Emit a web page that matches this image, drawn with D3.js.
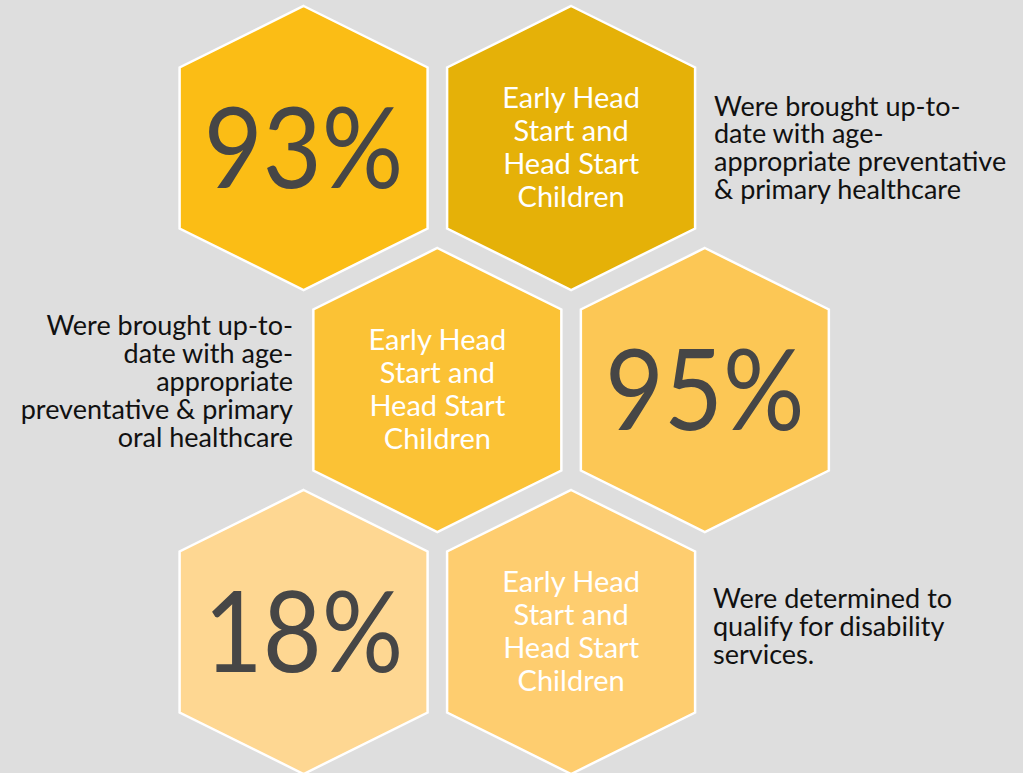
<!DOCTYPE html>
<meta charset="utf-8">
<html>
  <head>
    <style>
      body { margin: 0; background: #dedede; }
      #my_dataviz { width: 1023px; height: 773px; }
    </style>
    <script src="https://d3js.org/d3.v7.min.js"></script>
  </head>
  <body>
<div id="my_dataviz"></div>
<script>

// chart values
var percents = [93, 95, 18];
var groupLabel = ["Early Head", "Start and", "Head Start", "Children"];
var descriptions = [
  ["Were brought up-to-", "date with age-", "appropriate preventative", "& primary healthcare"],
  ["Were brought up-to-", "date with age-", "appropriate", "preventative & primary", "oral healthcare"],
  ["Were determined to", "qualify for disability", "services."]
];
var pctColors   = ["#fbbd15", "#fcc755", "#fed792"];
var labelColors = ["#e5b108", "#fbc235", "#fecd6f"];

var width = 1023, height = 773;
var font = "Lato, 'Open Sans', sans-serif";

var svg = d3.select("#my_dataviz")
  .append("svg")
  .attr("width", width)
  .attr("height", height);

svg.append("rect")
  .attr("width", width).attr("height", height)
  .attr("fill", "#dedede");

// honeycomb grid: column units (odd row is shifted half a cell) and rows
var x = d3.scaleLinear().domain([0, 1]).range([303.6, 571.1]);
var y = d3.scaleLinear().domain([0, 1]).range([148, 390]);

// hex half-width, half-height, corner offset
var hw = 124, hh = 142, hc = 80.5;
var hexPath = d3.line()([[0, -hh], [hw, -hc], [hw, hc], [0, hh], [-hw, hc], [-hw, -hc]]) + "Z";

// each row: percentage tile + label tile; odd row is mirrored
var tiles = [];
percents.forEach(function(p, i) {
  var odd = i % 2 == 1;
  var shift = odd ? 0.5 : 0;
  tiles.push({type: "pct", row: i, col: (odd ? 1 : 0) + shift, value: p, color: pctColors[i]});
  tiles.push({type: "label", row: i, col: (odd ? 0 : 1) + shift, color: labelColors[i]});
});

var g = svg.selectAll(".tile")
  .data(tiles)
  .enter()
  .append("g")
  .attr("class", "tile")
  .attr("transform", function(d) { return "translate(" + x(d.col) + "," + y(d.row) + ")"; });

g.append("path")
  .attr("d", hexPath)
  .attr("fill", function(d) { return d.color; })
  .attr("stroke", "#ffffff")
  .attr("stroke-width", 2.5);

// big numbers, narrowed a bit to look like the original face
g.filter(function(d) { return d.type == "pct"; })
  .append("text")
  .attr("text-anchor", "middle")
  .attr("y", 39.5)
  .attr("transform", "scale(0.9,1)")
  .attr("font-family", font)
  .attr("font-size", 113)
  .attr("fill", "#464646")
  .text(function(d) { return d.value + "%"; });

g.filter(function(d) { return d.type == "label"; })
  .append("text")
  .attr("text-anchor", "middle")
  .attr("font-family", font)
  .attr("font-size", 29)
  .attr("fill", "#ffffff")
  .selectAll("tspan")
  .data(groupLabel)
  .enter()
  .append("tspan")
  .attr("x", 0)
  .attr("y", function(d, i) { return -40 + i * 33; })
  .text(function(d) { return d; });

// descriptions beside each row
var descX = [714, 293, 713];
var descY = [115.5, 335, 608.3];
descriptions.forEach(function(lines, i) {
  svg.append("text")
    .attr("text-anchor", i % 2 == 1 ? "end" : "start")
    .attr("font-family", font)
    .attr("font-size", 27)
    .attr("fill", "#111111")
    .selectAll("tspan")
    .data(lines)
    .enter()
    .append("tspan")
    .attr("x", descX[i])
    .attr("y", function(d, j) { return descY[i] + j * 27.9; })
    .text(function(d) { return d; });
});

</script>
</body>
</html>
